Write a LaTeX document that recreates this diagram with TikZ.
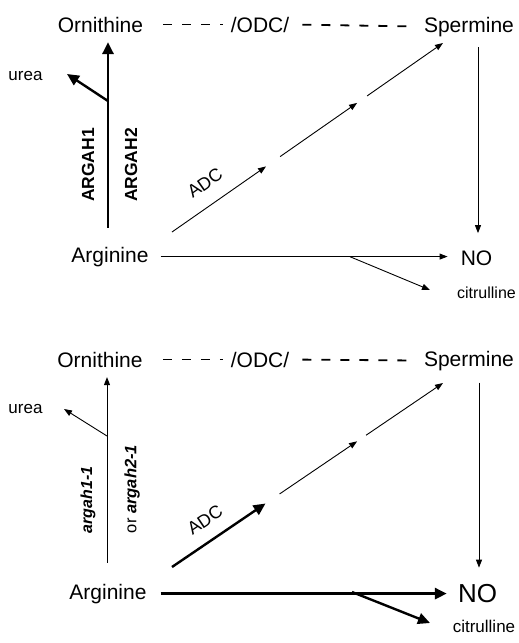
\documentclass[tikz,border=0pt]{standalone}
\usepackage{fontspec}
\setmainfont{Liberation Sans}
\usetikzlibrary{arrows.meta, calc}
\newcommand{\fs}[1]{\fontsize{#1}{#1}\selectfont}
\tikzset{
	lbl/.style = {font = \fs{21}, inner sep = 0pt, anchor = base},
	sml/.style = {font = \fs{17}, inner sep = 0pt, anchor = base},
	enz/.style = {font = \fs{17.5}, inner sep = 0pt, anchor = center},
	thinarr/.style = {line width = 0.9pt, -{Triangle[length = 8pt, width = 6pt]}},
	boldarr/.style = {line width = 2.8pt, -{Triangle[length = 12pt, width = 11pt]}},
	odash/.style = {line width = 1.8pt, dash pattern = on 9pt off 10pt}
}

\begin{document}
\begin{tikzpicture}[x = 1pt, y = -1pt]
	\useasboundingbox (0, 0) rectangle (519, 643);

	% wild type
	\node[lbl] (orn) at (100.5, 32) {Ornithine};
	\node[lbl] (odc) at (260, 32) {/ODC/};
	\node[lbl] (sperm) at (469, 32) {Spermine};
	\node[lbl] (arg) at (110, 262) {Arginine};
	\node[lbl] (no) at (476.5, 265) {NO};
	\node[sml, font = \fs{16}] (cit) at (486.5, 298) {citrulline};
	\node[sml] (urea) at (25.5, 80) {urea};
	\node[enz, rotate = 90] (ah1) at (88, 165) {\bfseries ARGAH1};
	\node[enz, rotate = 90] (ah2) at (131, 165) {\bfseries ARGAH2};
	\node[enz, font = \fs{18}, rotate = 35] (adc) at (205, 183) {ADC};
	\coordinate (ub) at (108, 101);
	\coordinate (ut) at (67, 74);
	\coordinate (cb) at (350, 256.7);
	\coordinate (ct) at (430, 290);
	\coordinate (adcA) at (172, 232);
	\coordinate (adcB) at (443, 43);

	\draw[odash, shorten <= 20pt, shorten >= 8pt] (orn.east) -- (odc.west);
	\draw[odash, shorten <= 13pt, shorten >= 16pt] (odc.east) -- (sperm.west);
	\draw[boldarr, shorten <= 18.7pt, shorten >= 9.7pt] (arg.north -| ub) -- (orn.south -| ub);
	\draw[boldarr, line width = 2.4pt] (ub) -- (ut);
	\draw[thinarr, shorten <= 12pt, shorten >= 13pt] (arg.east) -- (arg.east -| no.west);
	\draw[thinarr] (cb) -- (ct);
	\draw[thinarr, shorten <= 10.6pt, shorten >= 17pt] (sperm.south -| 478, 0) -- (no.north -| 478, 0);
	\foreach \s/\e in {0/0.347, 0.399/0.683, 0.72/1}
		\draw[thinarr] ($(adcA)!\s!(adcB)$) -- ($(adcA)!\e!(adcB)$);

	% mutants
	\begin{scope}[yshift = -335pt]
		\node[lbl] (orn2) at (100, 32) {Ornithine};
		\node[lbl] (odc2) at (260, 32) {/ODC/};
		\node[lbl] (sperm2) at (469, 31) {Spermine};
		\node[lbl] (arg2) at (108, 264) {Arginine};
		\node[lbl, font = \fs{26}] (no2) at (477.5, 267) {NO};
		\node[sml] (cit2) at (484, 297) {citrulline};
		\node[sml] (urea2) at (25.5, 78) {urea};
		\node[enz, font = \fs{16}, rotate = 90] (ah3) at (88, 165) {\bfseries\itshape argah1-1};
		\node[enz, font = \fs{16.5}, rotate = 90] (ah4) at (132, 154) {or \bfseries\itshape argah2-1};
		\node[enz, font = \fs{18}, rotate = 34] (adc2) at (205, 185) {ADC};
		\coordinate (ub2) at (107, 101);
		\coordinate (ut2) at (64, 74);
		\coordinate (cb2) at (352, 257);
		\coordinate (ct2) at (430, 288);
		\coordinate (adcA2) at (172, 232);
		\coordinate (adcB2) at (443, 48);

		\draw[odash, shorten <= 20pt, shorten >= 8pt] (orn2.east) -- (odc2.west);
		\draw[odash, shorten <= 13pt, shorten >= 16pt] (odc2.east) -- (sperm2.west);
		\draw[thinarr, shorten <= 21pt, shorten >= 9.7pt] (arg2.north -| ub2) -- (orn2.south -| ub2);
		\draw[thinarr] (ub2) -- (ut2);
		\draw[boldarr, shorten <= 14pt, shorten >= 11pt] (arg2.east) -- (arg2.east -| no2.west);
		\draw[boldarr, line width = 2.4pt] (cb2) -- (ct2);
		\draw[thinarr, shorten <= 12pt, shorten >= 16pt] (sperm2.south -| 479, 0) -- (no2.north -| 479, 0);
		\draw[boldarr, line width = 2.4pt] (adcA2) -- ($(adcA2)!0.345!(adcB2)$);
		\foreach \s/\e in {0.397/0.683, 0.716/1}
			\draw[thinarr] ($(adcA2)!\s!(adcB2)$) -- ($(adcA2)!\e!(adcB2)$);
	\end{scope}
\end{tikzpicture}
\end{document}
